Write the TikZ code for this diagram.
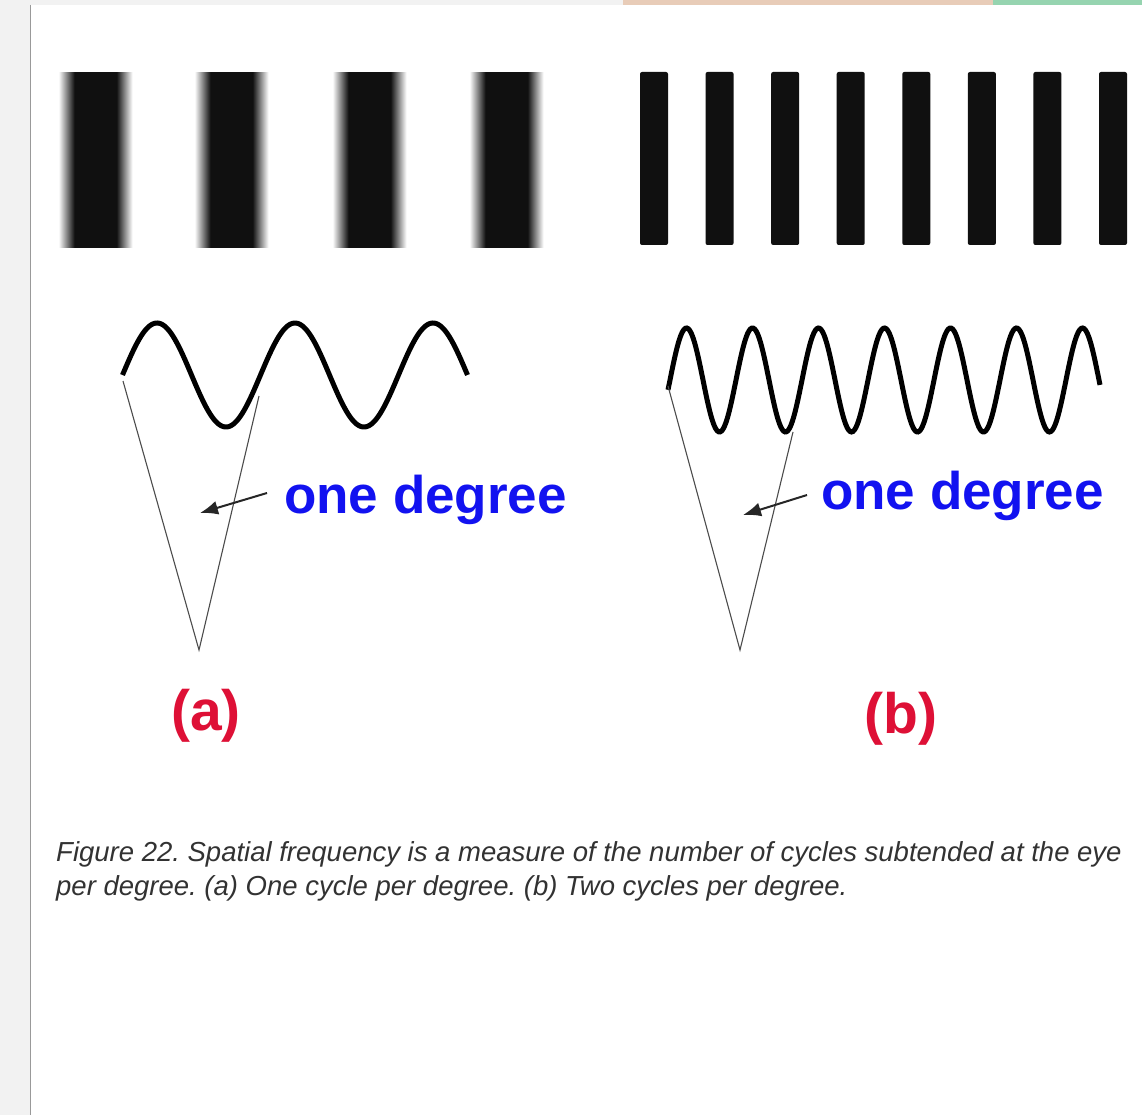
\documentclass[tikz,border=0pt]{standalone}
\usepackage{fontspec}
\setmainfont{Liberation Sans}
\usetikzlibrary{arrows.meta}
\definecolor{pagegrey}{RGB}{242,242,242}
\definecolor{peach}{RGB}{232,204,184}
\definecolor{mint}{RGB}{150,212,176}
\definecolor{barblack}{RGB}{16,16,16}
\definecolor{bluetxt}{RGB}{18,18,240}
\definecolor{redtxt}{RGB}{222,16,54}
\definecolor{captxt}{RGB}{50,50,50}
\tikzset{
  wave/.style={line width=5pt, black},
  vline/.style={line width=1.1pt, black!70},
  pointer/.style={line width=2pt, black!85, -{Latex[length=18pt,width=14pt]}},
  degtext/.style={text=bluetxt, font=\fontsize{53}{60}\selectfont\bfseries, inner sep=0pt, anchor=base west},
  partlabel/.style={text=redtxt, font=\fontsize{57}{64}\selectfont\bfseries, inner sep=0pt, anchor=base},
  captext/.style={text=captxt, font=\fontsize{27.5}{33}\selectfont\itshape, inner sep=0pt, anchor=base west}
}
\begin{document}
\frenchspacing
\begin{tikzpicture}[x=1pt,y=-1pt]
\useasboundingbox (0,0) rectangle (1142,1115);
% page background
\fill[pagegrey] (0,0) rectangle (1142,1115);
\fill[white] (30,5) rectangle (1142,1115);
\draw[black!40, line width=1pt] (30,5) -- (30,1115);
\fill[peach] (623,0) rectangle (993,5);
\fill[mint] (993,0) rectangle (1142,5);
% blurred wide bars (a): soft edges built from thin strips
\foreach \c in {96,232,370,507} {
  \fill[barblack] (\c-21,72) rectangle (\c+21,248);
  \foreach \k in {0,...,15} {
    \pgfmathsetmacro\p{(\k+0.5)/16*100}
    \fill[barblack!\p] (\c-37+\k,72) rectangle (\c-35.7+\k,248);
    \fill[barblack!\p] (\c+37-\k,72) rectangle (\c+35.7-\k,248);
  }
}
% narrow bars (b)
\foreach \i in {0,...,7} {
  \pgfmathsetmacro\c{654+65.57*\i}
  \fill[barblack, rounded corners=2pt] (\c-14,72) rectangle (\c+14,245);
}
% waves
\draw[wave] plot[domain=122.5:467.5, samples=200, smooth] (\x, {375-52*sin((\x-122.5)/138*360)});
\draw[wave] plot[domain=668:1100, samples=300, smooth] (\x, {380-52*sin((\x-670)/66*360)});
% (a) angle
\coordinate (astart) at (123,381);
\coordinate (aapex) at (199,650);
\coordinate (aright) at (259,396);
\draw[vline] (astart) -- (aapex) -- (aright);
\node[degtext] (adeg) at (284,513) {one degree};
\coordinate (atail) at (267,493);
\coordinate (atip) at (200,513);
\draw[pointer] (atail) -- (atip);
\node[partlabel] (alab) at (206,730) {(a)};
% (b) angle
\coordinate (bstart) at (668,386);
\coordinate (bapex) at (740,650);
\coordinate (bright) at (793,432);
\draw[vline] (bstart) -- (bapex) -- (bright);
\node[degtext] (bdeg) at (821,509) {one degree};
\coordinate (btail) at (807,495);
\coordinate (btip) at (743,515);
\draw[pointer] (btail) -- (btip);
\node[partlabel] (blab) at (901,733) {(b)};
% caption
\node[captext] (cap1) at (56,861) {Figure 22. Spatial frequency is a measure of the number of cycles subtended at the eye};
\node[captext] (cap2) at (56,895) {per degree. (a) One cycle per degree. (b) Two cycles per degree.};
\end{tikzpicture}
\end{document}
